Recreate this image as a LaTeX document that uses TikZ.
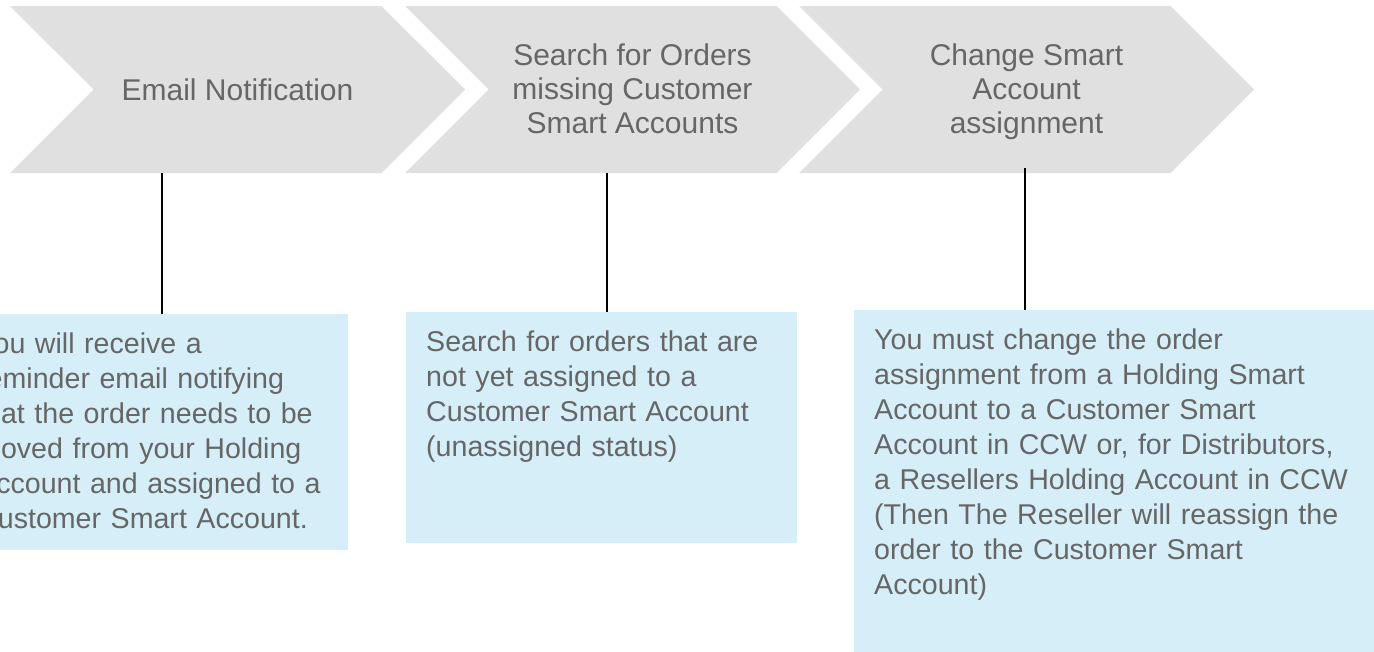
\documentclass[tikz,border=0pt]{standalone}
\usepackage{fontspec}
\setmainfont{Liberation Sans}
\usetikzlibrary{shapes.symbols,positioning}
\definecolor{stepgray}{HTML}{E0E0E0}
\definecolor{noteblue}{HTML}{D5EEF8}
\definecolor{textgray}{HTML}{666666}

\begin{document}
\begin{tikzpicture}[x=1pt, y=-1pt,
    chevron/.style={signal, signal from=west, signal to=east, signal pointer angle=90,
      fill=stepgray, minimum width=455pt, minimum height=167pt, inner sep=0pt,
      align=center, text=textgray, font=\fontsize{30}{34}\selectfont},
    three lines/.style={text height=96pt, text depth=9pt},
    note/.style={anchor=north west, fill=noteblue, text=textgray, align=left,
      inner xsep=20pt, inner ysep=0pt, text height=39pt, font=\fontsize{28.6}{35}\selectfont},
    stem/.style={line width=1.6pt}]
    \useasboundingbox (0,0) rectangle (1374,651);
    \clip (0,0) rectangle (1374,651);

    % process steps
    \node (notify) [chevron] at (237.5,89.5) {Email Notification};
    \node (search) [chevron, three lines] at (632.5,89.5) {Search for Orders\\ missing Customer\\ Smart Accounts};
    \node (change) [chevron, three lines] at (1026.5,89.5) {Change Smart\\ Account\\ assignment};

    % notes under each step
    \node (remind) [note, text width=351pt, text depth=197pt] at (-43,314)
      {You will receive a\\ reminder email notifying\\ that the order needs to be\\ moved from your Holding\\ Account and assigned to a\\ Customer Smart Account.};
    \node (lookup) [note, text width=351pt, text depth=192pt] at (406,312)
      {Search for orders that are\\ not yet assigned to a\\ Customer Smart Account\\ (unassigned status)};
    \node (reassign) [note, text width=500pt, text depth=320pt] at (854,310)
      {You must change the order\\ assignment from a Holding Smart\\ Account to a Customer Smart\\ Account in CCW or, for Distributors,\\ a Resellers Holding Account in CCW\\ (Then The Reseller will reassign the\\ order to the Customer Smart\\ Account)};

    \coordinate (s1) at ([xshift=205pt]remind.north west);
    \coordinate (s2) at ([xshift=201pt]lookup.north west);
    \coordinate (s3) at ([xshift=171pt]reassign.north west);
    \draw[stem] (s1 |- notify.south) -- (s1);
    \draw[stem] (s2 |- search.south) -- (s2);
    \draw[stem] ([yshift=5pt]s3 |- change.south) -- (s3);
\end{tikzpicture}
\end{document}
